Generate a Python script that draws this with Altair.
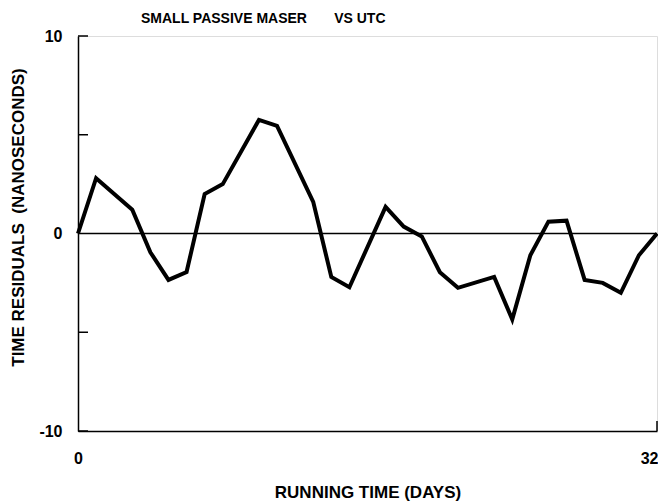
import altair as alt
import pandas as pd

# Data
days = [0, 1, 3, 4, 5, 6, 7, 8, 10, 11, 13, 14, 15, 17, 18, 19, 20, 21,
        23, 24, 25, 26, 27, 28, 29, 30, 31, 32]
residuals = [0.0, 2.8, 1.2, -0.95, -2.35, -1.95, 2.0, 2.5, 5.75, 5.45, 1.6,
             -2.2, -2.72, 1.35, 0.35, -0.15, -1.96, -2.75, -2.2, -4.35, -1.1,
             0.6, 0.65, -2.35, -2.5, -3.0, -1.1, 0.0]
y_tick_values = [-10, -5, 5, 10]
y_label_values = [-10, 0, 10]
x_label_values = [0, 32]

FONT = "Liberation Sans"
W, H = 579, 395

df = pd.DataFrame({"day": days, "res": residuals})
ticks_df = pd.DataFrame({"v": y_tick_values})
zero_df = pd.DataFrame({"x0": [0], "x1": [32], "y0": [0]})
xtick_df = pd.DataFrame({"x": [32]})

xscale = alt.Scale(domain=[0, 32], nice=False, zero=False)
yscale = alt.Scale(domain=[-10, 10], nice=False, zero=False)

x_axis = alt.Axis(
    values=x_label_values, grid=False, ticks=False, tickSize=0,
    domain=True, domainColor="black", domainWidth=1.5,
    labelFont=FONT, labelFontSize=16, labelFontWeight="bold", labelColor="black",
    labelPadding=19, labelFlush=False,
    labelAlign={"condition": {"test": "datum.value == 32", "value": "right"}, "value": "center"},
    labelOffset={"condition": {"test": "datum.value == 32", "value": 1}, "value": 0},
    title="RUNNING TIME (DAYS)", titleFont=FONT, titleFontSize=17,
    titleFontWeight="bold", titleColor="black", titlePadding=18,
)
y_axis = alt.Axis(
    values=y_label_values, grid=False, ticks=False, tickSize=0,
    domain=True, domainColor="black", domainWidth=1.5,
    labelFont=FONT, labelFontSize=16, labelFontWeight="bold", labelColor="black",
    labelPadding=16, labelFlush=False,
    labelExpr="datum.value < 0 ? '-' + abs(datum.value) : '' + datum.value",
    title="TIME RESIDUALS\u00a0\u00a0(NANOSECONDS)", titleFont=FONT, titleFontSize=17,
    titleFontWeight="bold", titleColor="black",
    titleX=-60, titleY=181, titleAngle=270, titleAlign="center", titleBaseline="middle",
)

line = alt.Chart(df).mark_line(color="black", strokeWidth=4, strokeJoin="miter").encode(
    x=alt.X("day:Q", scale=xscale, axis=x_axis),
    y=alt.Y("res:Q", scale=yscale, axis=y_axis),
)

zero = alt.Chart(zero_df).mark_rule(color="black", strokeWidth=1.5).encode(
    x=alt.X("x0:Q", scale=xscale), x2="x1:Q", y=alt.Y("y0:Q", scale=yscale)
)

yticks = alt.Chart(ticks_df).mark_rule(color="black", strokeWidth=1.5).encode(
    y=alt.Y("v:Q", scale=yscale), x=alt.value(0), x2=alt.value(10)
)

xtick = alt.Chart(xtick_df).mark_rule(color="black", strokeWidth=1.5).encode(
    x=alt.X("x:Q", scale=xscale), y=alt.value(H), y2=alt.value(H - 10)
)

chart = alt.layer(zero, yticks, xtick, line).properties(
    width=W, height=H,
    title=alt.TitleParams(
        "SMALL PASSIVE MASER\u00a0\u00a0\u00a0\u00a0\u00a0\u00a0\u00a0VS UTC",
        anchor="start", frame="group", dx=63, font=FONT, fontSize=14,
        fontWeight="bold", color="black", offset=2,
    ),
    autosize=alt.AutoSizeParams(type="none"),
    padding={"left": 70, "top": 28, "right": 1, "bottom": 70},
).configure_view(stroke=None).configure(background="white")

chart.save("out.html", embed_options={"renderer": "svg", "actions": False})
